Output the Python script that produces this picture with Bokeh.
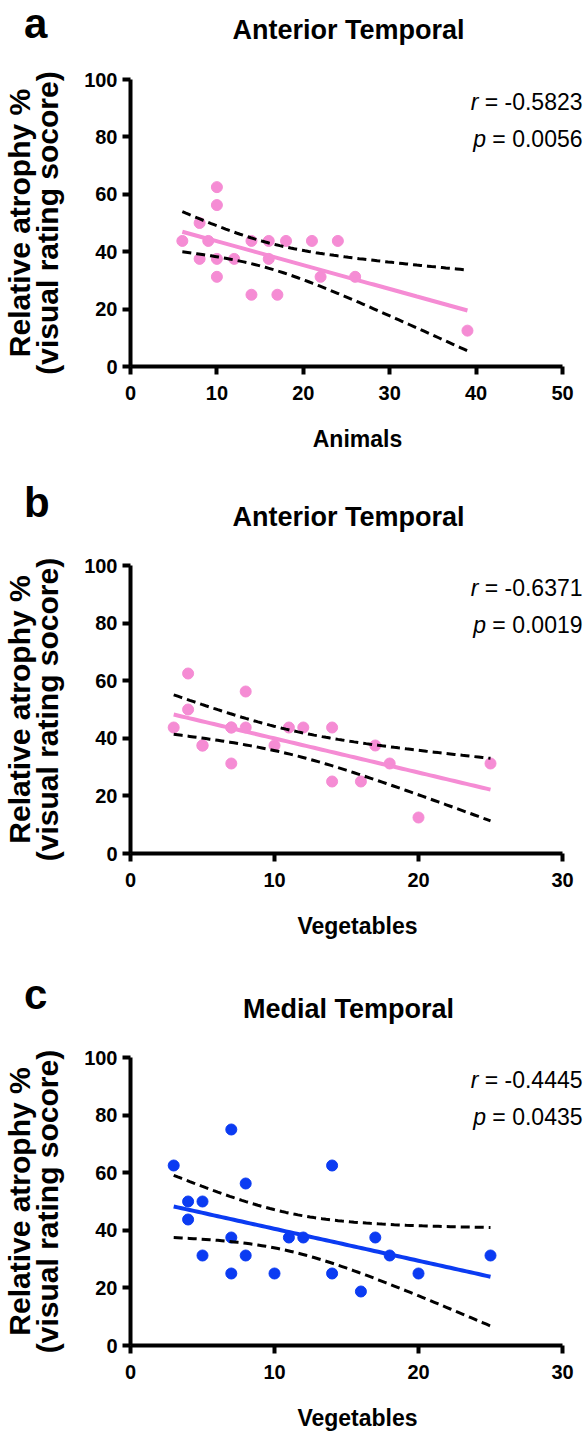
import numpy as np
from bokeh.plotting import figure
from bokeh.models import Range1d, FixedTicker, Label, Div
from bokeh.layouts import column
from bokeh.embed import file_html
from bokeh.resources import INLINE

# ---------------- data ----------------
animals_x = [6, 8, 8, 9, 10, 10, 10, 10, 12, 14, 14, 16, 16, 17, 18, 21, 22, 24, 26, 39]
animals_at = [43.75, 50, 37.5, 43.75, 62.5, 56.25, 37.5, 31.25, 37.5, 43.75, 25,
              43.75, 37.5, 25, 43.75, 43.75, 31.25, 43.75, 31.25, 12.5]

veg_b_x = [3, 4, 4, 5, 5, 7, 7, 7, 8, 8, 10, 11, 12, 14, 14, 16, 17, 18, 20, 25]
veg_b_at = [43.75, 62.5, 50, 37.5, 37.5, 43.75, 43.75, 31.25, 56.25, 43.75, 37.5,
            43.75, 43.75, 43.75, 25, 25, 37.5, 31.25, 12.5, 31.25]

veg_c_x = [3, 4, 4, 5, 5, 7, 7, 7, 8, 8, 10, 11, 12, 14, 14, 16, 17, 18, 20, 25]
veg_c_at = [62.5, 50, 43.75, 50, 31.25, 75, 37.5, 25, 56.25, 31.25, 25, 37.5,
            37.5, 62.5, 25, 18.75, 37.5, 31.25, 25, 31.25]

letters = ["a", "b", "c"]
titles = ["Anterior Temporal", "Anterior Temporal", "Medial Temporal"]
x_labels = ["Animals", "Vegetables", "Vegetables"]
x_max = [50, 30, 30]
x_ticks = [[0, 10, 20, 30, 40, 50], [0, 10, 20, 30], [0, 10, 20, 30]]
y_ticks = [0, 20, 40, 60, 80, 100]
r_text = ["-0.5823", "-0.6371", "-0.4445"]
p_text = ["0.0056", "0.0019", "0.0435"]
colors = ["#F58CD4", "#F58CD4", "#0B3BF2"]
y_label = "Relative atrophy %\n(visual rating socore)"

# t critical value (two-sided 95%) for df = n - 2
T_CRIT = {18: 2.1009, 16: 2.1199}

FONT = "Liberation Sans"
# regular Liberation Sans advance widths (em) for right alignment of r / p lines
ADV = {" ": 0.278, "=": 0.584, "-": 0.333, ".": 0.278}
for d in "0123456789":
    ADV[d] = 0.556


def text_w(s, size):
    return sum(ADV[c] for c in s) * size


W = 584
LEFT = 130
FW_AXIS = 432          # pixel length of the x axis (0 .. x_max)
FW = W - LEFT          # frame width (extends right of the axis end for the r/p text)
header_h = [68, 76, 76]
# per panel: (border_top, frame_height, border_bottom)
sizes = [(11, 287, 113), (10, 288, 118), (10, 288, 88)]

datasets = [(animals_x, animals_at), (veg_b_x, veg_b_at), (veg_c_x, veg_c_at)]

items = []
for i in range(3):
    hh = header_h[i]
    # ---- header: panel letter + title ----
    html = (
        f'<div style="position:relative;width:{W}px;height:{hh}px;'
        f"font-family:'{FONT}',Arial,sans-serif;color:#000;\">"
        f'<span style="position:absolute;left:24px;top:0px;font-size:42px;'
        f'line-height:47px;font-weight:bold;">{letters[i]}</span>'
        f'<span style="position:absolute;left:{LEFT}px;width:{FW_AXIS + 5}px;'
        f'top:{hh - 52.9:.1f}px;font-size:27px;line-height:31px;font-weight:bold;'
        f'text-align:center;white-space:nowrap;">{titles[i]}</span></div>'
    )
    items.append(Div(text=html, width=W, height=hh, margin=0))

    # ---- scatter panel ----
    bt, fh, bb = sizes[i]
    xs, ys = np.array(datasets[i][0], float), np.array(datasets[i][1], float)
    p = figure(width=W, height=bt + fh + bb,
               x_range=Range1d(0, x_max[i] * FW / FW_AXIS), y_range=Range1d(0, 100),
               output_backend="svg", toolbar_location=None,
               min_border_left=LEFT, min_border_right=0,
               min_border_top=bt, min_border_bottom=bb)
    p.outline_line_color = None
    p.xgrid.grid_line_color = None
    p.ygrid.grid_line_color = None

    for ax, ticks in ((p.xaxis[0], x_ticks[i]), (p.yaxis[0], y_ticks)):
        ax.ticker = FixedTicker(ticks=ticks)
        ax.axis_line_width = 4
        ax.axis_line_color = "black"
        ax.major_tick_line_width = 4
        ax.major_tick_line_color = "black"
        ax.major_tick_out = 8
        ax.major_tick_in = 0
        ax.minor_tick_line_color = None
        ax.major_label_text_font = FONT
        ax.major_label_text_font_style = "bold"
        ax.major_label_text_font_size = "20px"
        ax.major_label_text_color = "black"
        ax.axis_label_text_font = FONT
        ax.axis_label_text_font_style = "bold"
        ax.axis_label_text_color = "black"
    p.xaxis.bounds = (0, x_max[i])
    p.xaxis.major_label_standoff = 11
    p.yaxis.major_label_standoff = 5
    p.xaxis.axis_label = x_labels[i]
    p.xaxis.axis_label_text_font_size = "23px"
    p.xaxis.axis_label_standoff = 23
    p.yaxis.axis_label = y_label
    p.yaxis.axis_label_text_font_size = "30px"
    p.yaxis.axis_label_text_line_height = 0.85
    p.yaxis.axis_label_standoff = 17

    # data points
    p.scatter(xs, ys, size=11, fill_color=colors[i], line_color=colors[i])

    # linear regression with 95% confidence band
    n = len(xs)
    slope, inter = np.polyfit(xs, ys, 1)
    gx = np.linspace(xs.min(), xs.max(), 80)
    gy = inter + slope * gx
    resid = ys - (inter + slope * xs)
    s = np.sqrt(np.sum(resid ** 2) / (n - 2))
    sxx = np.sum((xs - xs.mean()) ** 2)
    half = T_CRIT[n - 2] * s * np.sqrt(1.0 / n + (gx - xs.mean()) ** 2 / sxx)
    p.line(gx, gy + half, line_color="black", line_width=3, line_dash="9 5")
    p.line(gx, gy - half, line_color="black", line_width=3, line_dash="9 5")
    p.line(gx, gy, line_color=colors[i], line_width=4)

    # r and p annotations (right aligned near the right edge)
    right = FW - 2
    for letter, val, yo in (("r", r_text[i], fh - 22), ("p", p_text[i], fh - 59)):
        rest = "= " + val
        p.add_layout(Label(x=right, y=yo, x_units="screen", y_units="screen",
                           text=rest, text_font=FONT, text_font_size="23px",
                           text_color="black", text_align="right",
                           text_baseline="alphabetic"))
        p.add_layout(Label(x=right - text_w(rest, 23) - text_w(" ", 23), y=yo,
                           x_units="screen", y_units="screen", text=letter,
                           text_font=FONT, text_font_style="italic",
                           text_font_size="23px", text_color="black",
                           text_align="right", text_baseline="alphabetic"))
    items.append(p)

layout = column(*items, spacing=0)
open("out.html", "w").write(file_html(layout, INLINE))
